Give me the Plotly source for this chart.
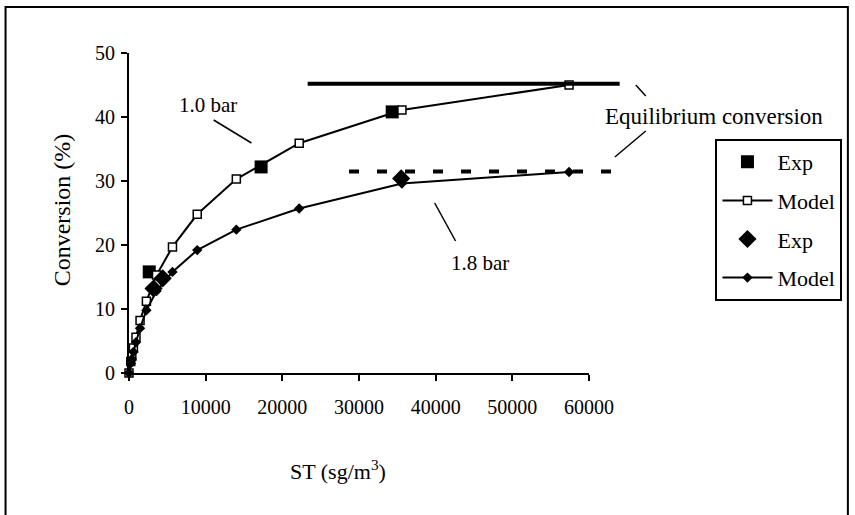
import plotly.graph_objects as go

# ---- data ----
model_x = [0, 230, 365, 575, 910, 1440, 2270, 3590, 5670, 8900, 14000, 22200, 35600, 57400]
model_1bar = [0, 1.8, 2.6, 3.9, 5.6, 8.2, 11.2, 15.3, 19.7, 24.8, 30.3, 35.9, 41.1, 45.0]
model_18bar = [0, 1.5, 2.2, 3.3, 4.8, 7.0, 9.8, 12.8, 15.8, 19.2, 22.4, 25.7, 29.6, 31.4]

exp_1bar_x = [2640, 17230, 34330]
exp_1bar_y = [15.8, 32.2, 40.8]
exp_18bar_x = [3200, 4400, 35500]
exp_18bar_y = [13.2, 14.8, 30.4]

eq_1bar_x = [23300, 64000]
eq_1bar_y = 45.2
eq_18bar_x = [28700, 63100]
eq_18bar_y = 31.5

x_ticks = [0, 10000, 20000, 30000, 40000, 50000, 60000]
x_tick_text = ["0", "10000", "20000", "30000", "40000", "50000", "60000"]
y_ticks = [0, 10, 20, 30, 40, 50]
y_tick_text = ["0", "10", "20", "30", "40", "50"]
X_RANGE = [0, 60000]
Y_RANGE = [0, 50]

FONT = "Liberation Serif, 'Times New Roman', Times, 'DejaVu Serif', serif"

# figure geometry
W, H = 855, 515
ML, MR, MT, MB = 129, 264, 53, 142
PW, PH = W - ML - MR, H - MT - MB


def px_x(p):  # pixel -> paper (x)
    return (p - ML) / PW


def px_y(p):  # pixel -> paper (y)
    return (H - MB - p) / PH


def dx(v):  # data -> paper via linear axis scale
    return (v - X_RANGE[0]) / (X_RANGE[1] - X_RANGE[0])


def dy(v):
    return (v - Y_RANGE[0]) / (Y_RANGE[1] - Y_RANGE[0])


fig = go.Figure()

fig.add_trace(go.Scatter(
    x=exp_1bar_x, y=exp_1bar_y, mode="markers", name="Exp", legendgroup="a",
    marker=dict(symbol="square", size=13, color="black"), cliponaxis=False))
fig.add_trace(go.Scatter(
    x=model_x, y=model_1bar, mode="lines+markers", name="Model", legendgroup="b",
    line=dict(color="black", width=2),
    marker=dict(symbol="square", size=8, color="white", line=dict(color="black", width=1.5)),
    cliponaxis=False))
fig.add_trace(go.Scatter(
    x=exp_18bar_x, y=exp_18bar_y, mode="markers", name="Exp", legendgroup="c",
    marker=dict(symbol="diamond", size=14, color="black"), cliponaxis=False))
fig.add_trace(go.Scatter(
    x=model_x, y=model_18bar, mode="lines+markers", name="Model", legendgroup="d",
    line=dict(color="black", width=2),
    marker=dict(symbol="diamond", size=8, color="black"), cliponaxis=False))

shapes = [
    # outer frame
    dict(type="rect", xref="paper", yref="paper",
         x0=px_x(5), x1=px_x(851), y0=px_y(525), y1=px_y(7),
         line=dict(color="black", width=2)),
    # equilibrium lines
    dict(type="line", xref="paper", yref="paper",
         x0=dx(eq_1bar_x[0]), x1=dx(eq_1bar_x[1]), y0=dy(eq_1bar_y), y1=dy(eq_1bar_y),
         line=dict(color="black", width=4)),
    dict(type="line", xref="paper", yref="paper",
         x0=dx(eq_18bar_x[0]), x1=dx(eq_18bar_x[1]), y0=dy(eq_18bar_y), y1=dy(eq_18bar_y),
         line=dict(color="black", width=4, dash="10px,18px")),
    # label pointers
    dict(type="line", xref="paper", yref="paper",
         x0=px_x(214), y0=px_y(120), x1=px_x(252), y1=px_y(143),
         line=dict(color="black", width=1.5)),
    dict(type="line", xref="paper", yref="paper",
         x0=px_x(436), y0=px_y(203), x1=px_x(457), y1=px_y(241),
         line=dict(color="black", width=1.5)),
    dict(type="line", xref="paper", yref="paper",
         x0=px_x(638), y0=px_y(85), x1=px_x(648), y1=px_y(96),
         line=dict(color="black", width=1.5)),
    dict(type="line", xref="paper", yref="paper",
         x0=px_x(648), y0=px_y(131), x1=px_x(617), y1=px_y(157),
         line=dict(color="black", width=1.5)),
]


def label(text, x, y, size, angle=0):
    return dict(text=text, xref="paper", yref="paper", x=px_x(x), y=px_y(y),
                xanchor="center", yanchor="middle", textangle=angle,
                showarrow=False, font=dict(size=size, family=FONT, color="black"))


annotations = [
    label("Conversion (%)", 62, 210, 24, -90),
    label("ST (sg/m<sup>3</sup>)", 339, 470, 22),
    label("1.0 bar", 208, 105, 21),
    label("1.8 bar", 482, 263, 21),
    label("Equilibrium conversion", 717, 117, 23),
]

axis_common = dict(showgrid=False, zeroline=False, showline=True, linecolor="black",
                   linewidth=2, ticks="outside", ticklen=6, tickwidth=2, tickcolor="black",
                   tickfont=dict(size=20, color="black", family=FONT))

fig.update_layout(
    width=W, height=H,
    margin=dict(l=ML, r=MR, t=MT, b=MB),
    paper_bgcolor="white", plot_bgcolor="white",
    font=dict(family=FONT, color="black"),
    xaxis=dict(range=X_RANGE, tickmode="array", tickvals=x_ticks, ticktext=x_tick_text,
               ticklabelstandoff=9, **axis_common),
    yaxis=dict(range=Y_RANGE, tickmode="array", tickvals=y_ticks, ticktext=y_tick_text,
               ticklabelstandoff=2, **axis_common),
    legend=dict(x=px_x(718), y=px_y(139), xanchor="left", yanchor="top",
                bordercolor="black", borderwidth=2, bgcolor="white",
                font=dict(size=22, family=FONT, color="black"),
                itemwidth=50, tracegroupgap=7, traceorder="grouped"),
    shapes=shapes,
    annotations=annotations,
)

fig.write_html("out.html")
